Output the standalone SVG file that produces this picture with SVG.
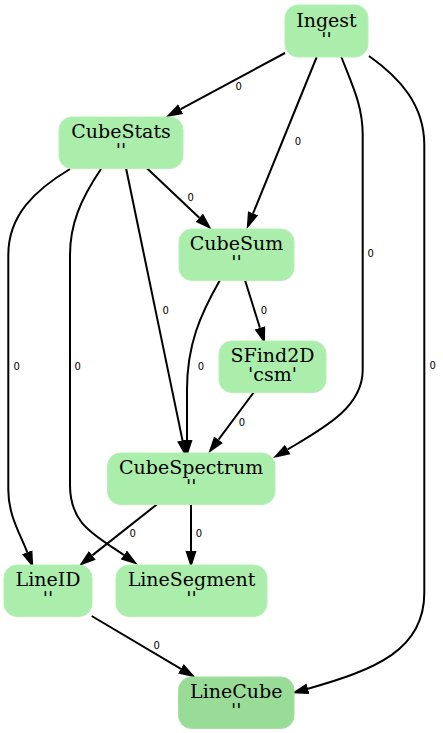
<svg xmlns="http://www.w3.org/2000/svg" width="443" height="733" viewBox="0 0 443 733">
<style>
.n rect{fill:#abeeab;stroke:#b4f0b4;stroke-width:1}
.n.dark rect{fill:#99dc98;stroke:#a3e0a2}
.n text{font-family:"DejaVu Serif",serif;font-size:19px;fill:#000;text-anchor:middle}
.e path{fill:none;stroke:#000;stroke-width:2;marker-end:url(#ah)}
.e text{font-family:"DejaVu Sans",sans-serif;font-size:10px;fill:#000;text-anchor:middle}
</style>
<defs>
<marker id="ah" markerUnits="userSpaceOnUse" markerWidth="18" markerHeight="12" viewBox="0 0 18 12" refX="0" refY="6" orient="auto">
<path d="M0,0.5 L17,6 L0,11.5 z" fill="#000"/>
</marker>
</defs>
<rect width="443" height="733" fill="#fff"/>
<g id="connectors" class="e">
<path d="M285,53 L180.7,109.2"/>
<text x="238.7" y="89.6">0</text>
<path d="M316.7,57 L253.1,213.3"/>
<text x="298" y="145.3">0</text>
<path d="M341,56 C352,85 362.7,105 362.7,135 L362.7,370 C362.7,408 322,429 287.7,449.4"/>
<text x="370.7" y="256.6">0</text>
<path d="M369,56 C400,78 424.3,105 424.3,145 L424.3,593 C424.3,650 375.2,669.8 308,688.7"/>
<text x="432.7" y="368.6">0</text>
<path d="M146.7,168 L199.3,217.7"/>
<text x="190.7" y="201.3">0</text>
<path d="M126,168 L182.5,440.4"/>
<text x="165.7" y="313.6">0</text>
<path d="M70,169 C35,190 8.3,215 8.3,255 L8.3,490 C8.3,515 20,533.6 27.2,552.2"/>
<text x="16.7" y="369.6">0</text>
<path d="M101,169 C80,200 70,225 70,255 L70,485 C70,525 95,535 123.8,555"/>
<text x="77.7" y="369.6">0</text>
<path d="M220,280 C200,315 187,345 187,390 L187,440"/>
<text x="201" y="369.6">0</text>
<path d="M245,280 L259.9,327.8"/>
<text x="264" y="313.6">0</text>
<path d="M254,392 L218.5,439.7"/>
<text x="242" y="425.6">0</text>
<path d="M158,503.5 L92.3,555.4"/>
<text x="132.7" y="536.6">0</text>
<path d="M191,504 L191,551"/>
<text x="199" y="536.6">0</text>
<path d="M91.7,616 L180.9,668.8"/>
<text x="156.7" y="649.3">0</text>
</g>
<g id="Ingest" class="n">
<rect x="285" y="5" width="83" height="52" rx="13"/>
<text x="326.5" y="26.5">Ingest</text>
<text x="326.5" y="45.5">''</text>
</g>
<g id="CubeStats" class="n">
<rect x="59" y="117" width="124" height="51.5" rx="13"/>
<text x="121" y="138.3">CubeStats</text>
<text x="121" y="157.3">''</text>
</g>
<g id="CubeSum" class="n">
<rect x="179" y="229" width="115" height="51.5" rx="13"/>
<text x="236.5" y="250.3">CubeSum</text>
<text x="236.5" y="269.3">''</text>
</g>
<g id="SFind2D" class="n">
<rect x="219" y="341" width="107" height="51.5" rx="13"/>
<text x="272.5" y="362.3">SFind2D</text>
<text x="272.5" y="381.3">'csm'</text>
</g>
<g id="CubeSpectrum" class="n">
<rect x="107.5" y="453" width="167.5" height="51.5" rx="13"/>
<text x="191.2" y="474.3">CubeSpectrum</text>
<text x="191.2" y="493.3">''</text>
</g>
<g id="LineID" class="n">
<rect x="4" y="565" width="88" height="51.5" rx="13"/>
<text x="48" y="586.3">LineID</text>
<text x="48" y="605.3">''</text>
</g>
<g id="LineSegment" class="n">
<rect x="116" y="565" width="151" height="51.5" rx="13"/>
<text x="191.5" y="586.3">LineSegment</text>
<text x="191.5" y="605.3">''</text>
</g>
<g id="LineCube" class="n dark">
<rect x="178.5" y="677" width="115.5" height="51.5" rx="13"/>
<text x="236.2" y="698.3">LineCube</text>
<text x="236.2" y="717.3">''</text>
</g>
</svg>
